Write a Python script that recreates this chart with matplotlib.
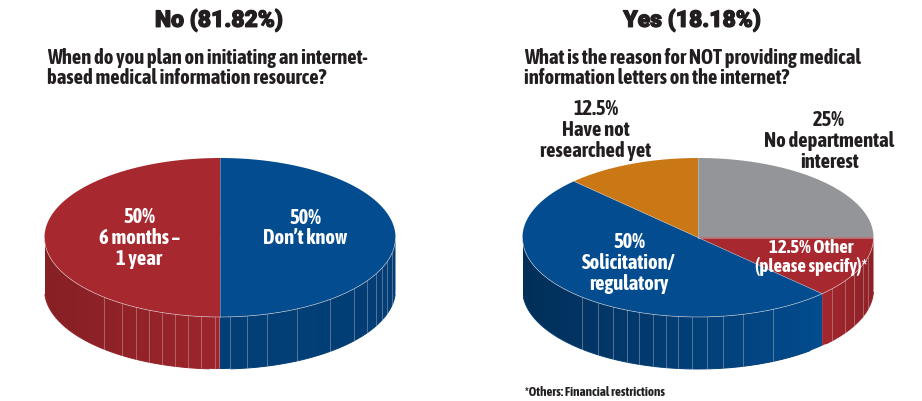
import numpy as np
import matplotlib
matplotlib.use("Agg")
import matplotlib.pyplot as plt
import matplotlib.patheffects as pe
from matplotlib.colors import to_rgb
from matplotlib.patches import Polygon

# Survey shares, listed clockwise from 12 o'clock
left_title = "No (81.82%)"
left_question = "When do you plan on initiating an internet-\nbased medical information resource?"
left_names = ["Don\u2019t know", "6 months \u2013\n1 year"]
left_values = [50, 50]

right_title = "Yes (18.18%)"
right_question = "What is the reason for NOT providing medical\ninformation letters on the internet?"
right_names = ["No departmental\ninterest", "Other\n(please specify)*", "Solicitation/\nregulatory", "Have not\nresearched yet"]
right_values = [25, 12.5, 50, 12.5]
footnote = "*Others: Financial restrictions"

RED = "#a8282f"
BLUE = "#034c8f"
GRAY = "#939598"
ORANGE = "#ca7816"
INK = "#231f20"
WHITE = "white"

RX, RY, DEPTH = 175.5, 79.5, 52
CY = 238.5

# Rib positions on the rim, as offsets from the pie centre
left_ribs = [-116, -98, -84, -71, -58, -45, -32, -19, -5, -1, 10, 27, 47, 77, 110, 134, 147, 156, 162, 167, 172]
right_ribs = [-116, -100, -85, -71, -59, -45, -32, -20, -6, 9, 25, 45, 75, 134, 147, 156, 165, 170]


def ellipse_xy(cx, theta):
    return cx + RX * np.cos(theta), CY - RY * np.sin(theta)


def draw_rim(ax, cx, start, end, color, tone_left, tone_right):
    # rim only shows on the front half of the disc
    start, end = max(start, np.pi), min(end, 2 * np.pi)
    if end <= start:
        return
    theta = np.linspace(start, end, 160)
    x, y = ellipse_xy(cx, theta)
    base = np.array(to_rgb(color))
    tones = np.linspace(tone_left, tone_right, 256)
    shade = (base[None, :] * tones[:, None])[None, :, :]
    outline = np.column_stack([np.r_[x, x[::-1]], np.r_[y, y[::-1] + DEPTH]])
    clip = Polygon(outline, closed=True, transform=ax.transData, facecolor="none", edgecolor="none")
    ax.add_patch(clip)
    image = ax.imshow(shade, extent=(x.min(), x.max(), y.max() + DEPTH, y.min()),
                      aspect="auto", interpolation="bilinear", zorder=2)
    image.set_clip_path(clip)
    # soften the clipped lower edge, leaving out the steep ends
    ax.plot(x[6:-6], y[6:-6] + DEPTH, color=base * (tone_left + tone_right) / 2, lw=0.7,
            solid_capstyle="butt", zorder=2)


def draw_pie(ax, cx, values, colors, tones, ribs):
    total = sum(values)
    angle = np.pi / 2
    spans = []
    for value in values:
        next_angle = angle - 2 * np.pi * value / total
        spans.append((next_angle, angle))
        angle = next_angle

    for (a, b), color, tone in zip(spans, colors, tones):
        # a slice may wrap past 3 o'clock, so test the shifted range too
        draw_rim(ax, cx, a, b, color, *tone)
        draw_rim(ax, cx, a + 2 * np.pi, b + 2 * np.pi, color, *tone)

    for offset in ribs:
        theta = np.arcsin(offset / RX) - np.pi / 2
        x, y = ellipse_xy(cx, theta)
        ax.plot([x, x], [y, y + DEPTH], color="#d8c8cc", lw=0.6, alpha=0.45, zorder=3)

    for (a, b), color in zip(spans, colors):
        theta = np.linspace(a, b, 200)
        x, y = ellipse_xy(cx, theta)
        points = np.column_stack([np.r_[cx, x], np.r_[CY, y]])
        ax.add_patch(Polygon(points, closed=True, facecolor=color, edgecolor="none", zorder=4))

    # pale hairline along the front edge and the slice joins
    theta = np.linspace(np.pi, 2 * np.pi, 200)
    x, y = ellipse_xy(cx, theta)
    ax.plot(x, y, color="#e6dfe0", lw=0.5, alpha=0.7, zorder=5)
    for a, b in spans:
        x, y = ellipse_xy(cx, b)
        ax.plot([cx, x], [CY, y], color="#ddd8d8", lw=0.5, alpha=0.55, zorder=5)


def pct(value):
    return f"{value:g}%"


fig = plt.figure(figsize=(9.22, 4.02), dpi=100)
ax = fig.add_axes([0, 0, 1, 1])
ax.axis("off")

draw_pie(ax, 220, left_values, [BLUE, RED], [(0.84, 0.82), (0.80, 0.94)], left_ribs)
draw_pie(ax, 698, right_values, [GRAY, RED, BLUE, ORANGE],
         [(1, 1), (0.98, 0.84), (0.62, 1.0), (1, 1)], right_ribs)

ax.set_xlim(0, 922)
ax.set_ylim(402, 0)

narrow = dict(family=["Asap Condensed", "Roboto Condensed", "Liberation Sans"], fontweight="bold")
wide = dict(family="Roboto", fontweight=900)
heavy = [pe.withStroke(linewidth=0.9, foreground=INK)]

ax.text(219, 21, left_title, ha="center", va="center", fontsize=16.5, color=INK, path_effects=heavy, **wide)
ax.text(692, 21, right_title, ha="center", va="center", fontsize=16.5, color=INK, path_effects=heavy, **wide)
ax.text(47, 68, left_question, ha="left", va="center", fontsize=14.8, linespacing=1.04, color=INK, **narrow)
ax.text(524, 68, right_question, ha="left", va="center", fontsize=14.8, linespacing=1.04, color=INK, **narrow)

ax.text(139, 238, f"{pct(left_values[1])}\n{left_names[1]}", ha="center", va="center", fontsize=14.8, linespacing=1.04, color=WHITE, zorder=6, **narrow)
ax.text(305, 228, f"{pct(left_values[0])}\n{left_names[0]}", ha="center", va="center", fontsize=14.8, linespacing=1.04, color=WHITE, zorder=6, **narrow)

ax.text(629, 263, f"{pct(right_values[2])}\n{right_names[2]}", ha="center", va="center", fontsize=14.8, linespacing=1.04, color=WHITE, zorder=6, **narrow)
ax.text(811, 258, f"{pct(right_values[1])} {right_names[1]}", ha="center", va="center", fontsize=13.6, linespacing=1.0, color=WHITE, zorder=6, **narrow)
ax.text(596, 130, f"{pct(right_values[3])}\n{right_names[3]}", ha="center", va="center", fontsize=14.8, linespacing=1.04, color=INK, **narrow)
ax.text(829, 141, f"{pct(right_values[0])}\n{right_names[0]}", ha="center", va="center", fontsize=14.8, linespacing=1.04, color=INK, **narrow)

ax.text(525, 393, footnote, ha="left", va="center", fontsize=9.4, color=INK, **narrow)

fig.savefig("out.png", dpi=100, facecolor="white")
